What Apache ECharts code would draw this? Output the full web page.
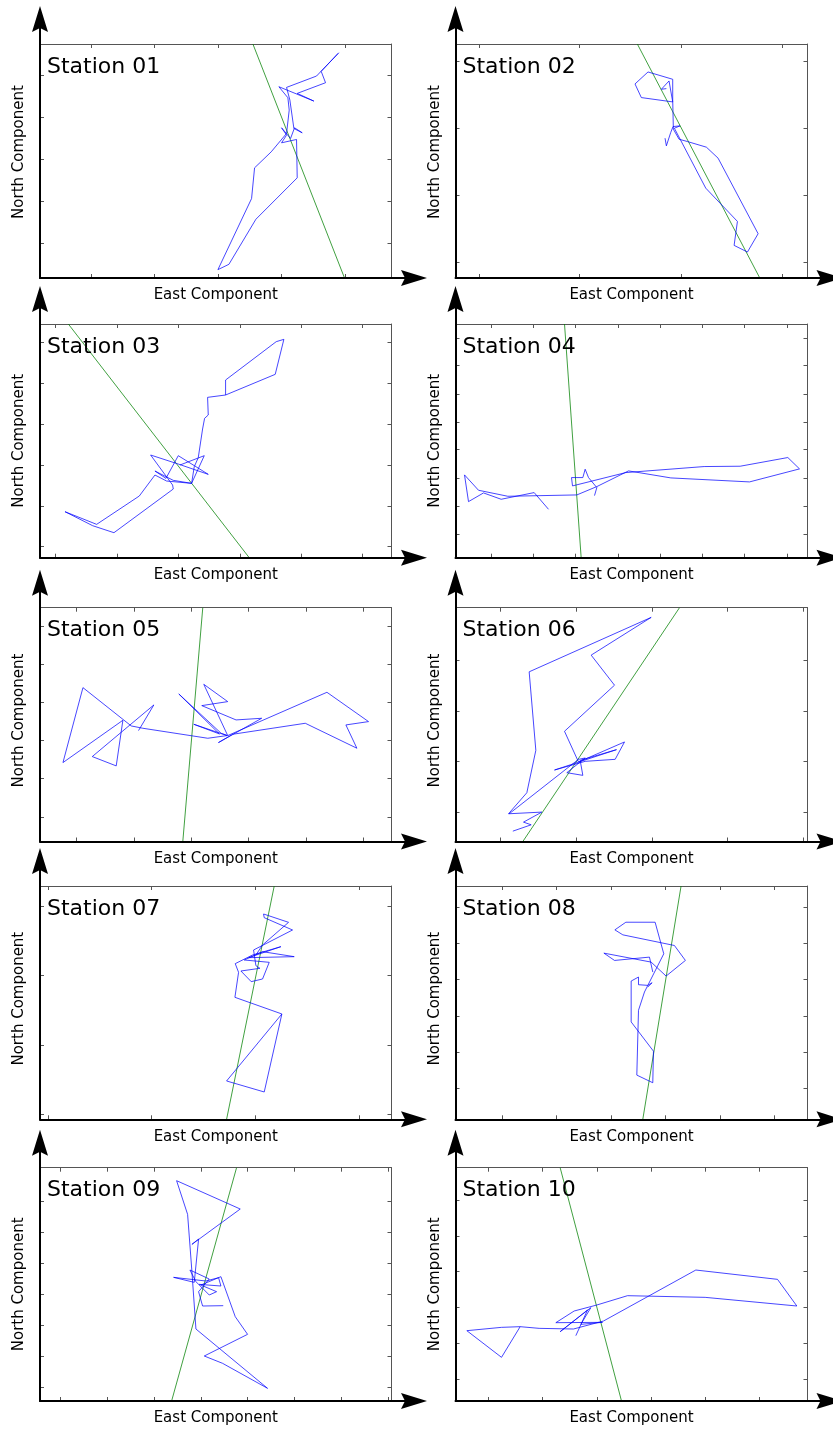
<!DOCTYPE html>
<html><head><meta charset="utf-8">
<script src="https://cdn.jsdelivr.net/npm/echarts@6/dist/echarts.min.js"></script>
<style>html,body{margin:0;padding:0;background:#fff}#c{width:833px;height:1429px}</style>
</head><body><div id="c"></div>
<script>
// ---------- DATA (East / North components, arbitrary units) ----------
const stations = ['Station 01','Station 02','Station 03','Station 04','Station 05','Station 06','Station 07','Station 08','Station 09','Station 10'];

const track01 = [[1013,-160],[948,-228],[858,-262],[868,-300],[880,-385],[905,-398],[882,-383],[870,-415],[843,-383],[858,-405],[843,-428],[888,-418],[890,-533],[766,-657],[685,-792],[652,-808],[753,-595],[762,-503],[812,-455],[858,-400],[866,-330],[862,-293],[835,-260],[940,-303],[890,-280],[975,-248],[962,-214],[1015,-158]];
const track02 = [[748,-415],[752,-438],[765,-398],[772,-380],[793,-378],[776,-385],[870,-565],[965,-665],[955,-737],[995,-757],[1027,-702],[907,-475],[872,-442],[815,-425],[790,-418],[773,-388],[771,-300],[771,-238],[697,-216],[658,-252],[677,-293],[771,-306],[760,-243],[737,-268],[752,-266]];
const track03 = [[677,-330],[677,-285],[829,-170],[852,-163],[826,-268],[677,-330],[623,-337],[625,-390],[614,-400],[608,-432],[595,-518],[583,-545],[575,-595],[520,-586],[465,-558],[498,-580],[535,-512],[625,-568],[535,-537],[452,-510],[518,-600],[520,-612],[342,-743],[278,-722],[195,-680],[290,-718],[418,-633],[465,-570],[500,-588],[575,-595],[613,-512],[540,-540]];
const track04 = [[400,-673],[357,-623],[258,-643],[205,-624],[160,-650],[148,-570],[190,-616],[278,-634],[485,-630],[545,-605],[640,-558],[767,-579],[1003,-591],[1153,-552],[1118,-518],[975,-544],[867,-545],[632,-563],[472,-603],[469,-578],[503,-578],[510,-553],[520,-578],[545,-608],[538,-632]];
const track05 = [[417,-497],[463,-420],[278,-575],[350,-603],[370,-466],[190,-593],[250,-368],[395,-483],[430,-490],[625,-520],[683,-512],[583,-478],[660,-507],[538,-387],[665,-505],[685,-512],[613,-358],[685,-410],[607,-422],[710,-465],[787,-460],[657,-533],[700,-508],[918,-475],[1073,-550],[1040,-480],[1108,-470],[983,-382],[685,-512]];
const track06 = [[293,-797],[348,-778],[325,-770],[380,-740],[280,-745],[335,-682],[362,-555],[342,-320],[708,-157],[528,-270],[598,-360],[448,-498],[490,-590],[628,-530],[600,-582],[510,-588],[418,-614],[604,-553],[495,-585],[503,-630],[455,-622],[510,-578],[490,-582],[282,-745]];
const track07 = [[848,-507],[682,-708],[795,-741],[848,-507],[707,-457],[718,-382],[708,-356],[760,-330],[845,-305],[748,-338],[885,-335],[790,-320],[735,-345],[810,-352],[790,-402],[756,-410],[725,-378],[782,-370],[770,-362],[763,-315],[880,-255],[795,-218],[793,-207],[868,-232],[790,-300],[770,-330]];
const track08 = [[715,-380],[705,-335],[600,-345],[568,-323],[710,-350],[755,-392],[813,-345],[780,-300],[625,-268],[601,-253],[634,-230],[722,-230],[748,-325],[690,-440],[672,-495],[667,-690],[715,-713],[717,-618],[650,-530],[650,-407],[672,-395],[672,-418],[700,-420],[713,-412],[700,-425]];
const track09 = [[672,-542],[610,-543],[598,-500],[630,-462],[572,-435],[590,-470],[630,-510],[652,-500],[600,-478],[665,-483],[658,-458],[620,-468],[523,-457],[585,-472],[598,-342],[578,-358],[723,-252],[532,-167],[565,-268],[578,-440],[590,-612],[805,-790],[670,-715],[615,-693],[745,-628],[708,-575],[665,-455],[605,-480]];
const track10 = [[485,-632],[520,-555],[438,-620],[530,-548],[500,-598],[565,-592],[425,-593],[480,-558],[548,-540],[640,-512],[873,-517],[1148,-543],[1090,-463],[845,-435],[568,-588],[478,-612],[375,-610],[318,-605],[262,-697],[158,-617],[262,-607],[318,-605]];

// principal-direction lines (green)
const axisLine01 = [[757,-132],[1032,-833]];
const axisLine02 = [[665,-132],[1032,-835]];
const axisLine03 = [[205,-117],[748,-818]];
const axisLine04 = [[448,-118],[498,-818]];
const axisLine05 = [[610,-128],[550,-830]];
const axisLine06 = [[793,-128],[323,-828]];
const axisLine07 = [[825,-123],[682,-823]];
const axisLine08 = [[800,-121],[685,-823]];
const axisLine09 = [[712,-128],[517,-828]];
const axisLine10 = [[438,-128],[622,-828]];

// axis extents [min, max]
const eastRange  = [[118,1173],[120,1175],[120,1175],[121,1177],[121,1177],[121,1177],[122,1177],[122,1180],[122,1177],[124,1180]];
const northRange = [[-833,-132],[-835,-132],[-818,-117],[-818,-118],[-830,-128],[-828,-128],[-823,-123],[-823,-121],[-828,-128],[-828,-128]];

// tick positions
const eastTicks = [
  [273,462,652,843,1033],
  [190,492,796,1100],
  [166,351,536,720,904,1088],
  [228,355,481,608,735,862,988,1115],
  [230,403,576,748,920,1093],
  [255,483,710,937,1165],
  [146,457,769,1081],
  [262,426,590,753,917,1081],
  [183,325,465,605,745,885,1025,1167],
  [222,385,548,710,873,1036]
];
const northTicks = [
  [-226,-352,-478,-603,-729],
  [-183,-384,-586,-787],
  [-172,-295,-419,-541,-663,-785],
  [-160,-243,-327,-411,-494,-579,-663,-747],
  [-183,-297,-411,-526,-641,-756],
  [-285,-437,-588,-740],
  [-185,-392,-600,-807],
  [-185,-294,-403,-512,-621,-730],
  [-228,-322,-415,-507,-600,-695,-788],
  [-225,-333,-440,-548,-656,-764]
];

const tracks = [track01,track02,track03,track04,track05,track06,track07,track08,track09,track10];
const dirLines = [axisLine01,axisLine02,axisLine03,axisLine04,axisLine05,axisLine06,axisLine07,axisLine08,axisLine09,axisLine10];

// ---------- LAYOUT ----------
const colLeft = [40, 455.5], colWidth = [351.5, 352];
const rowTop = [44, 324, 607.7, 886, 1167.7], rowBottom = [278, 557.7, 841.5, 1119.3, 1401];
const yNameShift = [9, 0, 4, 4, 0];
const FONT = 'DejaVu Sans';
const arrowPath = 'path://M8,0L16,26L8,22L0,26Z';

const grid = [], xAxis = [], yAxis = [], series = [], title = [];
const frameColor = '#555';

stations.forEach((name, i) => {
  const r = Math.floor(i / 2), c = i % 2;
  const L = colLeft[c], W = colWidth[c], T = rowTop[r], B = rowBottom[r], H = B - T;

  // frame grid
  const g = grid.length;
  grid.push({left: L, top: T, width: W, height: H, outerBoundsMode: 'none', containLabel: false});
  const common = (isX, pos) => ({
    type: 'value', gridIndex: g, position: pos,
    min: isX ? eastRange[i][0] : northRange[i][0],
    max: isX ? eastRange[i][1] : northRange[i][1],
    axisLine: {show: true, onZero: false, lineStyle: {color: frameColor, width: 1}},
    axisTick: {show: true, inside: true, length: 4, customValues: isX ? eastTicks[i] : northTicks[i], lineStyle: {color: frameColor, width: 1}},
    axisLabel: {show: false},
    splitLine: {show: false}
  });
  const xb = xAxis.length;
  xAxis.push(Object.assign(common(true, 'bottom'), {
    name: 'East Component', nameLocation: 'middle', nameGap: 10,
    nameTextStyle: {fontFamily: FONT, fontSize: 15, color: '#000', verticalAlign: 'top'}
  }));
  xAxis.push(common(true, 'top'));
  const yl = yAxis.length;
  const sh = yNameShift[r];
  yAxis.push(Object.assign(common(false, 'left'), {
    name: 'North Component', nameLocation: 'middle', nameGap: 13,
    nameTextStyle: {fontFamily: FONT, fontSize: 15, color: '#000', padding: [0, 0, 0, sh * 2]}
  }));
  yAxis.push(common(false, 'right'));

  series.push({
    type: 'line', xAxisIndex: xb, yAxisIndex: yl, data: dirLines[i],
    showSymbol: false, symbol: 'none', silent: true, animation: false, z: 2,
    lineStyle: {color: 'rgba(0,128,0,0.75)', width: 1}
  });
  series.push({
    type: 'line', xAxisIndex: xb, yAxisIndex: yl, data: tracks[i],
    showSymbol: false, symbol: 'none', silent: true, animation: false, z: 3,
    lineStyle: {color: 'rgba(0,0,255,0.72)', width: 1}
  });

  // arrow axes grid
  const g2 = grid.length;
  const tipTop = T - 38, tipRight = L + 387, half = 13;
  grid.push({left: L, top: tipTop + half, width: tipRight - half - L, height: B - (tipTop + half), outerBoundsMode: 'none', containLabel: false});
  const arrowAxis = (pos) => ({
    type: 'value', gridIndex: g2, position: pos, min: 0, max: 1, z: 10,
    axisLine: {show: true, onZero: false, symbol: ['none', arrowPath], symbolSize: [16, 26], lineStyle: {color: '#000', width: 2}},
    axisTick: {show: false}, axisLabel: {show: false}, splitLine: {show: false}
  });
  xAxis.push(arrowAxis('bottom'));
  yAxis.push(arrowAxis('left'));

  title.push({
    text: name, left: L + 7, top: T + 12, padding: 0,
    textStyle: {fontFamily: FONT, fontSize: 22, fontWeight: 'normal', color: '#000'}
  });
});

const chart = echarts.init(document.getElementById('c'), null, {renderer: 'canvas'});
chart.setOption({animation: false, backgroundColor: '#fff', title, grid, xAxis, yAxis, series});
</script>
</body></html>
